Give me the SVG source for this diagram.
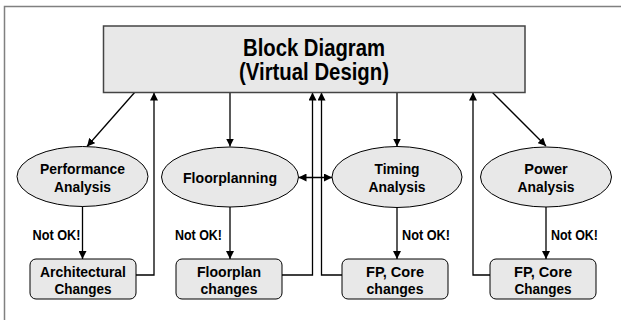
<svg xmlns="http://www.w3.org/2000/svg" width="621" height="320" viewBox="0 0 621 320">
<defs>
<style>
.t{font-family:"Liberation Sans",Arial,sans-serif;font-weight:bold;fill:#000;text-anchor:middle}
.n{font-size:15.5px}
.lb{font-size:14.5px;font-family:"Liberation Sans",Arial,sans-serif;font-weight:bold;fill:#000}
.shape{fill:#e8e8e8;stroke:#000;stroke-width:1}
.c{fill:none;stroke:#000;stroke-width:1.3}
</style>
<marker id="ah" viewBox="0 0 10 10" refX="10" refY="5" markerWidth="8" markerHeight="8" markerUnits="userSpaceOnUse" orient="auto-start-reverse">
<path d="M0,0 L10,5 L0,10 z" fill="#000"/>
</marker>
</defs>
<rect x="0" y="0" width="621" height="320" fill="#fff"/>
<rect x="4.5" y="6.5" width="620" height="320" fill="none" stroke="#808080" stroke-width="1.5"/>

<g id="connectors">
<path class="c" d="M135,92 L87,146.5" marker-end="url(#ah)"/>
<path class="c" d="M230,92 L230,146.5" marker-end="url(#ah)"/>
<path class="c" d="M397,92 L397,146.5" marker-end="url(#ah)"/>
<path class="c" d="M492,92 L546,146" marker-end="url(#ah)"/>
<path class="c" d="M136,275 L154,275 L154,92.5" marker-end="url(#ah)"/>
<path class="c" d="M282,275 L312.5,275 L312.5,92.5" marker-end="url(#ah)"/>
<path class="c" d="M342,275 L321.5,275 L321.5,92.5" marker-end="url(#ah)"/>
<path class="c" d="M490,275 L473,275 L473,92.5" marker-end="url(#ah)"/>
<path class="c" d="M82.5,206 L82.5,259" marker-end="url(#ah)"/>
<path class="c" d="M230,207 L230,259" marker-end="url(#ah)"/>
<path class="c" d="M397,207 L397,259" marker-end="url(#ah)"/>
<path class="c" d="M546,207 L546,259" marker-end="url(#ah)"/>
<path class="c" d="M298.5,177.5 L332,177.5" marker-start="url(#ah)" marker-end="url(#ah)"/>
<text class="lb" x="80.5" y="240" text-anchor="end" textLength="48" lengthAdjust="spacingAndGlyphs">Not OK!</text>
<text class="lb" x="222" y="240" text-anchor="end" textLength="47" lengthAdjust="spacingAndGlyphs">Not OK!</text>
<text class="lb" x="402" y="240" textLength="48" lengthAdjust="spacingAndGlyphs">Not OK!</text>
<text class="lb" x="551" y="240" textLength="47" lengthAdjust="spacingAndGlyphs">Not OK!</text>
</g>

<g id="block">
<rect x="103.5" y="26" width="421.5" height="66.5" fill="#e8e8e8" stroke="#444" stroke-width="1.5"/>
<text class="t" x="314" y="55.5" font-size="24" textLength="142" lengthAdjust="spacingAndGlyphs">Block Diagram</text>
<text class="t" x="314" y="80" font-size="24" textLength="150" lengthAdjust="spacingAndGlyphs">(Virtual Design)</text>
</g>

<g id="performance">
<ellipse class="shape" cx="82.5" cy="176.5" rx="65.5" ry="30"/>
<text class="t n" x="82.5" y="174" textLength="85" lengthAdjust="spacingAndGlyphs">Performance</text>
<text class="t n" x="82.5" y="191.5" textLength="57" lengthAdjust="spacingAndGlyphs">Analysis</text>
</g>
<g id="floorplanning">
<ellipse class="shape" cx="230" cy="177" rx="68.5" ry="30"/>
<text class="t n" x="230" y="183" textLength="94" lengthAdjust="spacingAndGlyphs">Floorplanning</text>
</g>
<g id="timing">
<ellipse class="shape" cx="397" cy="177" rx="65" ry="30.5"/>
<text class="t n" x="397" y="174" textLength="45" lengthAdjust="spacingAndGlyphs">Timing</text>
<text class="t n" x="397" y="191.5" textLength="57" lengthAdjust="spacingAndGlyphs">Analysis</text>
</g>
<g id="power">
<ellipse class="shape" cx="546" cy="177" rx="65.5" ry="30"/>
<text class="t n" x="546" y="174" textLength="43.5" lengthAdjust="spacingAndGlyphs">Power</text>
<text class="t n" x="546" y="191.5" textLength="57" lengthAdjust="spacingAndGlyphs">Analysis</text>
</g>

<g id="arch">
<rect class="shape" x="30" y="259" width="106" height="40" rx="6"/>
<text class="t n" x="83" y="276.5" textLength="86" lengthAdjust="spacingAndGlyphs">Architectural</text>
<text class="t n" x="83" y="294" textLength="57" lengthAdjust="spacingAndGlyphs">Changes</text>
</g>
<g id="fpchanges">
<rect class="shape" x="176" y="259" width="106" height="40" rx="6"/>
<text class="t n" x="229" y="276.5" textLength="64" lengthAdjust="spacingAndGlyphs">Floorplan</text>
<text class="t n" x="229" y="294" textLength="57" lengthAdjust="spacingAndGlyphs">changes</text>
</g>
<g id="fpcore1">
<rect class="shape" x="342" y="259" width="106" height="40" rx="6"/>
<text class="t n" x="395" y="276.5" textLength="58" lengthAdjust="spacingAndGlyphs">FP, Core</text>
<text class="t n" x="395" y="294" textLength="57" lengthAdjust="spacingAndGlyphs">changes</text>
</g>
<g id="fpcore2">
<rect class="shape" x="490" y="259" width="106" height="40" rx="6"/>
<text class="t n" x="543" y="276.5" textLength="58" lengthAdjust="spacingAndGlyphs">FP, Core</text>
<text class="t n" x="543" y="294" textLength="57" lengthAdjust="spacingAndGlyphs">Changes</text>
</g>
</svg>
